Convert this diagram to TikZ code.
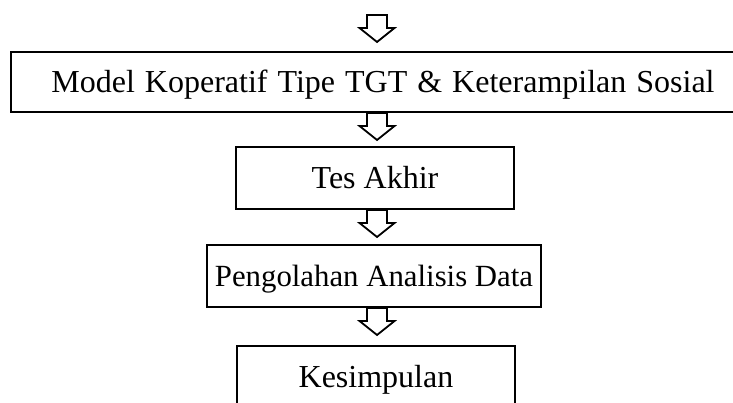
\documentclass[tikz,border=0pt]{standalone}
\usepackage{fontspec}
\setmainfont{Liberation Serif}
\usetikzlibrary{calc}
\newcommand\blockarr[1]{\draw[barrow] (#1) ++(-10,0) -- ++(0,13) -- ++(-7.5,0) -- ++(17.5,14) -- ++(17.5,-14) -- ++(-7.5,0) -- ++(0,-13) -- cycle;}
\begin{document}
\begin{tikzpicture}[x=1pt,y=-1pt,
  box/.style={draw, line width=2pt, inner sep=0pt, text height=21.5pt, text depth=0pt,
    font=\fontsize{32}{36}\selectfont},
  barrow/.style={draw, line width=1.8pt, fill=white, line join=miter}]
\useasboundingbox (0,0) rectangle (733,403);
\clip (0,0) rectangle (733,403);
\node[box, minimum width=744pt, minimum height=60pt] (b1) at (383,82) {\spaceskip=10pt Model Koperatif Tipe TGT \& Keterampilan Sosial};
\node[box, minimum width=278pt, minimum height=62pt] (b2) at (375,178) {Tes Akhir};
\node[box, minimum width=334pt, minimum height=62pt, font=\fontsize{30.8}{36}\selectfont] (b3) at (374,276) {Pengolahan Analisis Data};
\node[box, minimum width=278pt, minimum height=62pt] (b4) at (376,377) {Kesimpulan};
\coordinate (s0) at (377,15);
\coordinate (s1) at (b1.south -| s0);
\coordinate (s2) at (b2.south -| s0);
\coordinate (s3) at (b3.south -| s0);
\blockarr{s0}
\blockarr{s1}
\blockarr{s2}
\blockarr{s3}
\end{tikzpicture}
\end{document}
